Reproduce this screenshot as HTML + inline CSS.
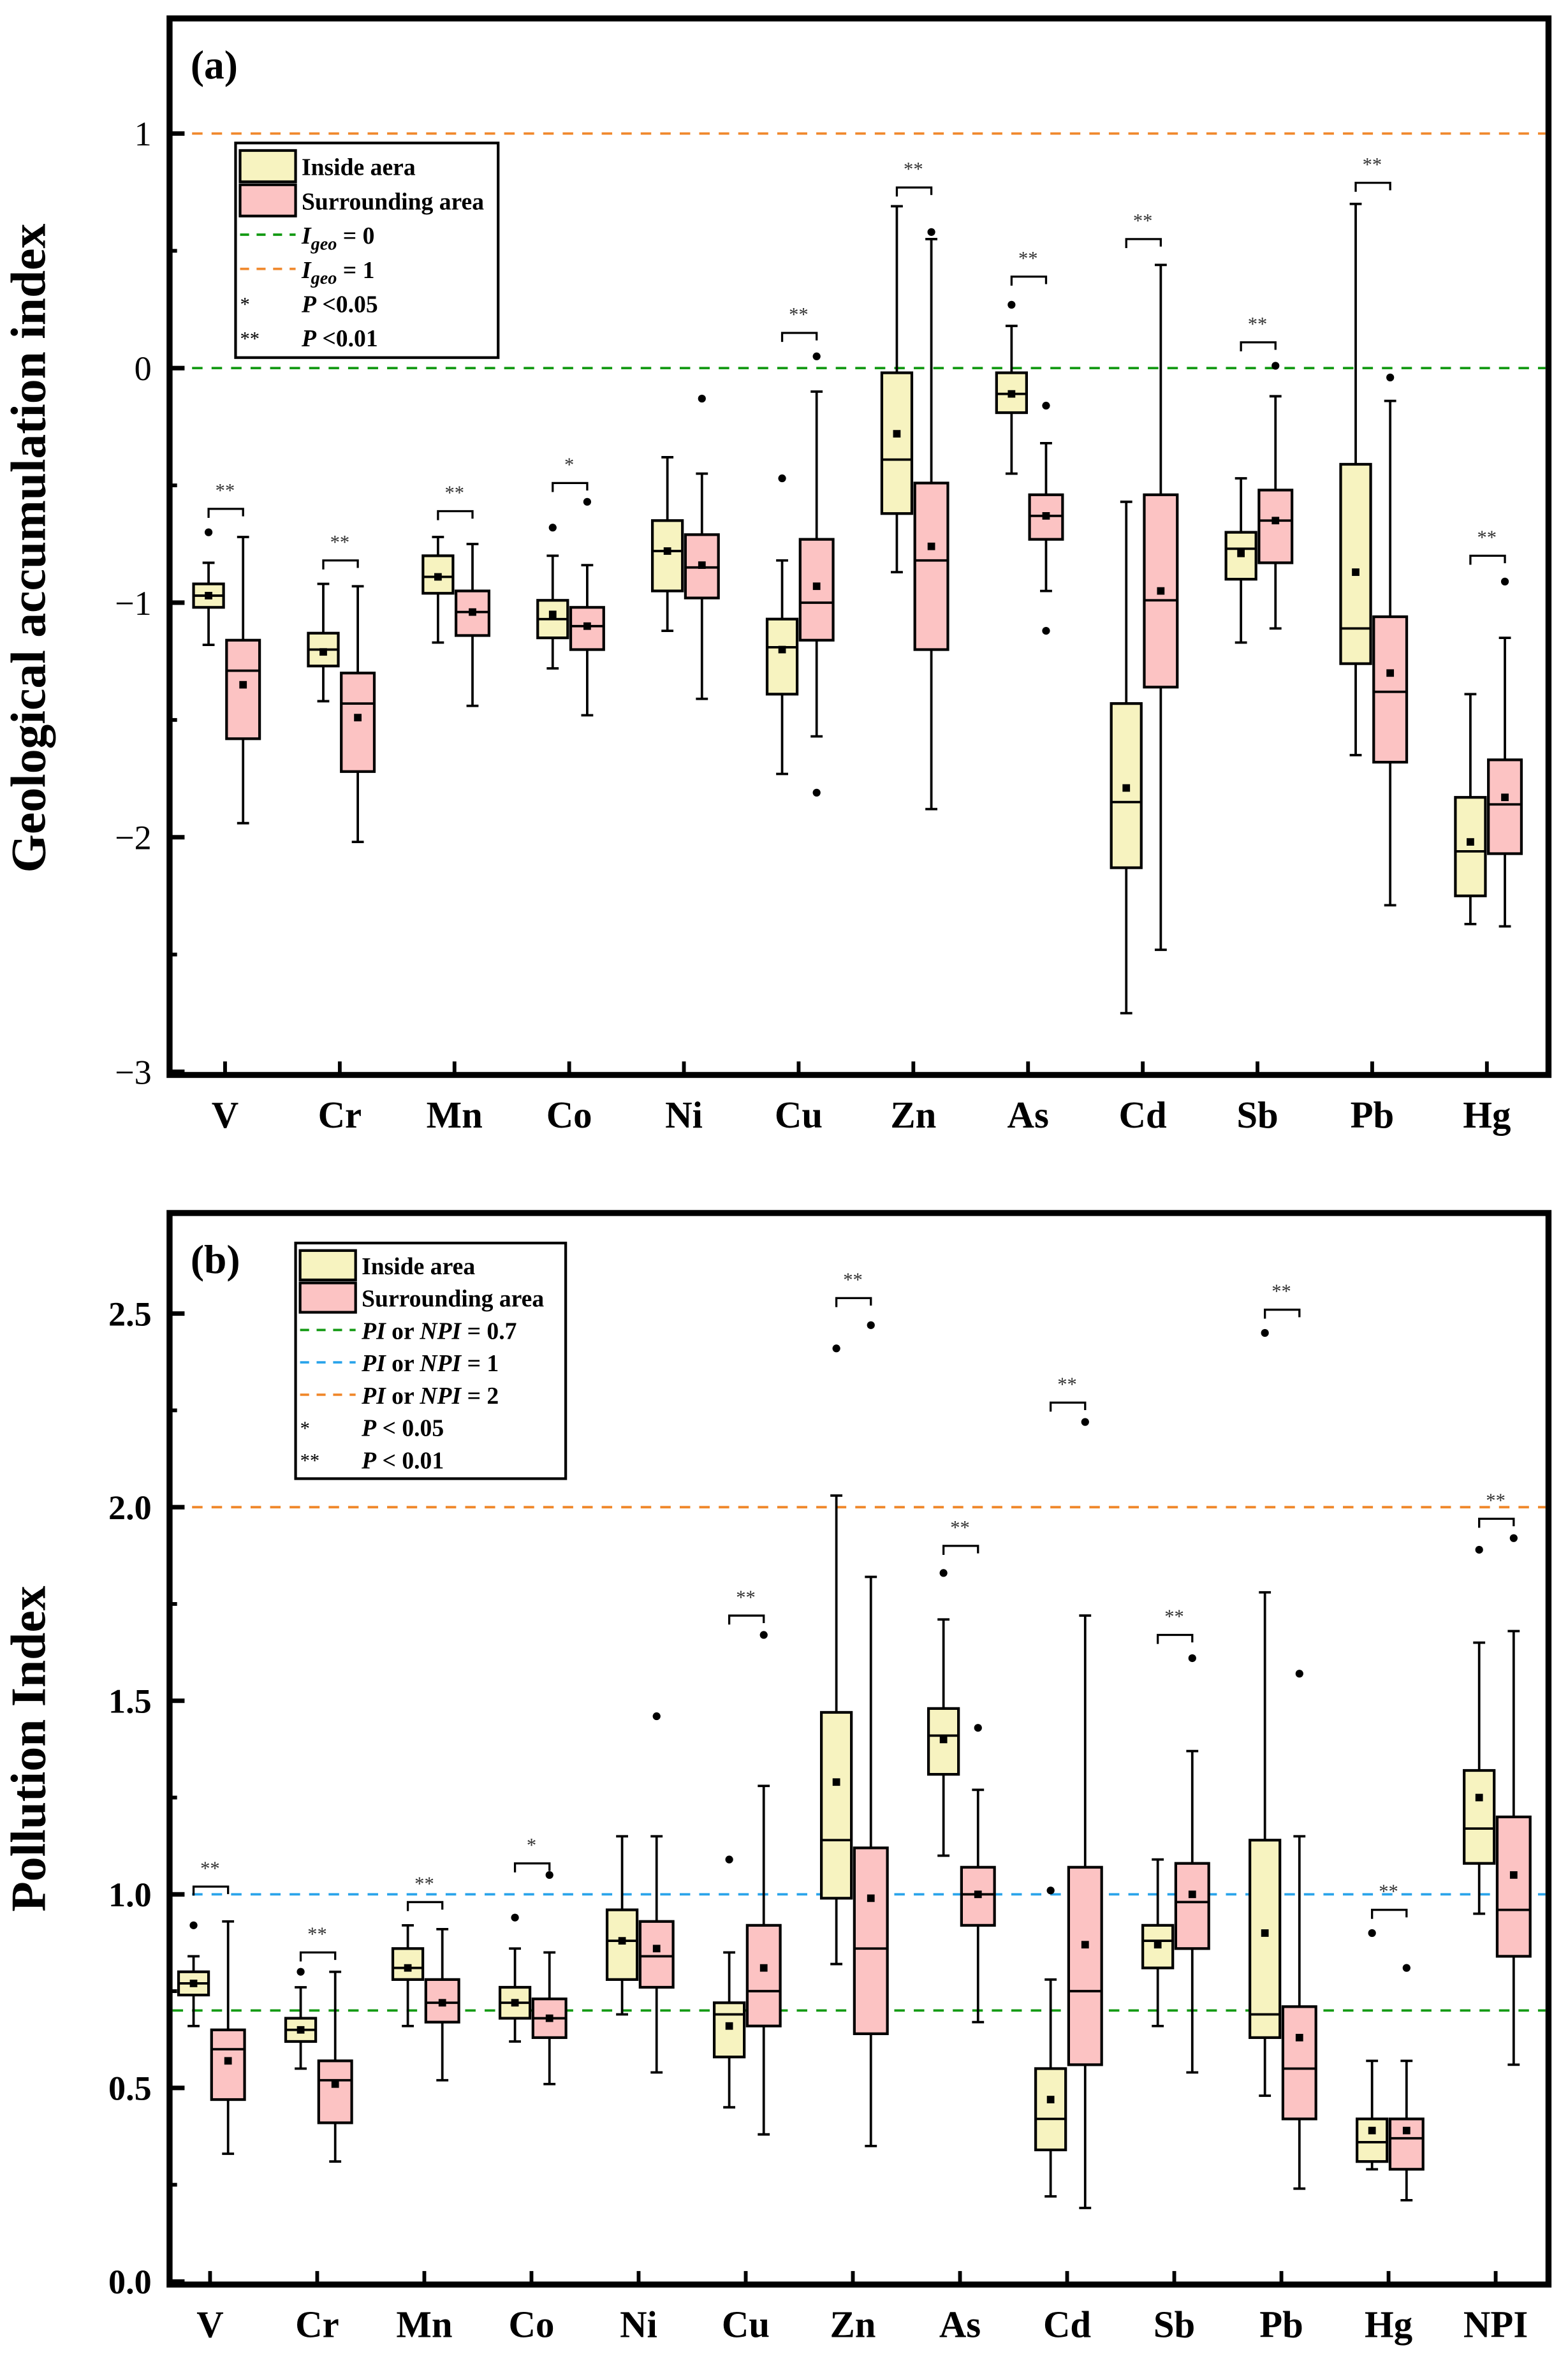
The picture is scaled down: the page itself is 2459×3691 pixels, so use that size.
<!DOCTYPE html>
<html><head><meta charset="utf-8">
<style>
html,body{margin:0;padding:0;background:#fff;}
svg{display:block;}
text{font-family:"Liberation Serif",serif;}
</style></head>
<body>
<svg id="fig" width="2459" height="3691" viewBox="0 0 1045 1568" xmlns="http://www.w3.org/2000/svg">
<rect x="0" y="0" width="1045" height="1568" fill="#fff"/>
</svg>
<script>
// ---------- Panel (a) data: [whiskLo, q1, median, q3, whiskHi, mean] ----------
const catsA = ["V","Cr","Mn","Co","Ni","Cu","Zn","As","Cd","Sb","Pb","Hg"];
const insideA = [
 [-1.18,-1.02,-0.97,-0.92,-0.83,-0.97],
 [-1.42,-1.27,-1.20,-1.13,-0.92,-1.21],
 [-1.17,-0.96,-0.89,-0.80,-0.72,-0.89],
 [-1.28,-1.15,-1.07,-0.99,-0.80,-1.05],
 [-1.12,-0.95,-0.78,-0.65,-0.38,-0.78],
 [-1.73,-1.39,-1.19,-1.07,-0.82,-1.20],
 [-0.87,-0.62,-0.39,-0.02,0.69,-0.28],
 [-0.45,-0.19,-0.11,-0.02,0.18,-0.11],
 [-2.75,-2.13,-1.85,-1.43,-0.57,-1.79],
 [-1.17,-0.90,-0.77,-0.70,-0.47,-0.79],
 [-1.65,-1.26,-1.11,-0.41,0.70,-0.87],
 [-2.37,-2.25,-2.06,-1.83,-1.39,-2.02]
];
const surroundA = [
 [-1.94,-1.58,-1.29,-1.16,-0.72,-1.35],
 [-2.02,-1.72,-1.43,-1.30,-0.93,-1.49],
 [-1.44,-1.14,-1.04,-0.95,-0.75,-1.04],
 [-1.48,-1.20,-1.10,-1.02,-0.84,-1.10],
 [-1.41,-0.98,-0.85,-0.71,-0.45,-0.84],
 [-1.57,-1.16,-1.00,-0.73,-0.10,-0.93],
 [-1.88,-1.20,-0.82,-0.49,0.55,-0.76],
 [-0.95,-0.73,-0.63,-0.54,-0.32,-0.63],
 [-2.48,-1.36,-0.99,-0.54,0.44,-0.95],
 [-1.11,-0.83,-0.65,-0.52,-0.12,-0.65],
 [-2.29,-1.68,-1.38,-1.06,-0.14,-1.30],
 [-2.38,-2.07,-1.86,-1.67,-1.15,-1.83]
];
const outInA = [[-0.70],[],[],[-0.68],[],[-0.47],[],[0.27],[],[],[],[]];
const outSurA = [[],[],[],[-0.57],[-0.13],[0.05,-1.81],[0.58],[-0.16,-1.12],[],[0.01],[-0.04],[-0.91]];
const sigA = ["**","**","**","*","","**","**","**","**","**","**","**"];
const sigYA = [-0.60,-0.82,-0.61,-0.49,null,0.15,0.77,0.39,0.55,0.11,0.79,-0.80];
const ticksA = [1,0,-1,-2,-3];

// ---------- Panel (b) data ----------
const catsB = ["V","Cr","Mn","Co","Ni","Cu","Zn","As","Cd","Sb","Pb","Hg","NPI"];
const insideB = [
 [0.66,0.74,0.77,0.80,0.84,0.77],
 [0.55,0.62,0.65,0.68,0.76,0.65],
 [0.66,0.78,0.81,0.86,0.92,0.81],
 [0.62,0.68,0.72,0.76,0.86,0.72],
 [0.69,0.78,0.88,0.96,1.15,0.88],
 [0.45,0.58,0.69,0.72,0.85,0.66],
 [0.82,0.99,1.14,1.47,2.03,1.29],
 [1.10,1.31,1.41,1.48,1.71,1.40],
 [0.22,0.34,0.42,0.55,0.78,0.47],
 [0.66,0.81,0.88,0.92,1.09,0.87],
 [0.48,0.63,0.69,1.14,1.78,0.90],
 [0.29,0.31,0.36,0.42,0.57,0.39],
 [0.95,1.08,1.17,1.32,1.65,1.25]
];
const surroundB = [
 [0.33,0.47,0.60,0.65,0.93,0.57],
 [0.31,0.41,0.52,0.57,0.80,0.51],
 [0.52,0.67,0.72,0.78,0.91,0.72],
 [0.51,0.63,0.68,0.73,0.85,0.68],
 [0.54,0.76,0.84,0.93,1.15,0.86],
 [0.38,0.66,0.75,0.92,1.28,0.81],
 [0.35,0.64,0.86,1.12,1.82,0.99],
 [0.67,0.92,1.00,1.07,1.27,1.00],
 [0.19,0.56,0.75,1.07,1.72,0.87],
 [0.54,0.86,0.98,1.08,1.37,1.00],
 [0.24,0.42,0.55,0.71,1.15,0.63],
 [0.21,0.29,0.37,0.42,0.57,0.39],
 [0.56,0.84,0.96,1.20,1.68,1.05]
];
const outInB = [[0.92],[0.80],[],[0.94],[],[1.09],[2.41],[1.83],[1.01],[],[2.45],[0.90],[1.89]];
const outSurB = [[],[],[],[1.05],[1.46],[1.67],[2.47],[1.43],[2.22],[1.61],[1.57],[0.81],[1.92]];
const sigB = ["**","**","**","*","","**","**","**","**","**","**","**","**"];
const sigYB = [1.02,0.85,0.98,1.08,null,1.72,2.54,1.90,2.27,1.67,2.51,0.96,1.97];
const ticksB = [0.0,0.5,1.0,1.5,2.0,2.5];

const NS = "http://www.w3.org/2000/svg";
const svg = document.getElementById("fig");
function mk(tag, attrs, parent){
  const e = document.createElementNS(NS, tag);
  for (const k in attrs) e.setAttribute(k, attrs[k]);
  (parent||svg).appendChild(e);
  return e;
}

function drawPanel(cfg){
  const g = mk("g", {});
  
  
  const X0=113, X1=1032, Y0=cfg.top, Y1=cfg.bottom;
  const y = v => cfg.yZero - cfg.unit*v;
  const xc = i => cfg.x0 + cfg.dx*i;

  cfg.refs.forEach(r=>{
    const l = mk("line",{x1:X0+2,x2:X1-2,y1:y(r.v),y2:y(r.v),stroke:r.c,"stroke-width":1.6,"stroke-dasharray":"7 6"},g);
    
    
  });

  function box(d, cx, w, fill, outs, name){
    const bg = mk("g",{},g);
    
    
    mk("line",{x1:cx,x2:cx,y1:y(d[0]),y2:y(d[1]),stroke:"#000","stroke-width":1.6},bg);
    mk("line",{x1:cx,x2:cx,y1:y(d[3]),y2:y(d[4]),stroke:"#000","stroke-width":1.6},bg);
    mk("line",{x1:cx-4,x2:cx+4,y1:y(d[0]),y2:y(d[0]),stroke:"#000","stroke-width":1.6},bg);
    mk("line",{x1:cx-4,x2:cx+4,y1:y(d[4]),y2:y(d[4]),stroke:"#000","stroke-width":1.6},bg);
    mk("rect",{x:cx-w/2,y:y(d[3]),width:w,height:y(d[1])-y(d[3]),fill:fill,stroke:"#000","stroke-width":1.8},bg);
    mk("line",{x1:cx-w/2,x2:cx+w/2,y1:y(d[2]),y2:y(d[2]),stroke:"#000","stroke-width":1.6},bg);
    mk("rect",{x:cx-2.5,y:y(d[5])-2.5,width:5,height:5,fill:"#000"},bg);
    outs.forEach(o=>{ mk("circle",{cx:cx,cy:y(o),r:2.6,fill:"#000"},bg); });
  }
  cfg.cats.forEach((c,i)=>{
    box(cfg.inside[i], xc(i)-11, 20, "#f7f3c0", cfg.outIn[i], "inside-box-"+c.toLowerCase());
    box(cfg.surround[i], xc(i)+12, 22, "#fcc3c3", cfg.outSur[i], "surrounding-box-"+c.toLowerCase());
    if (cfg.sig[i]){
      const yy = y(cfg.sigY[i]);
      const b = mk("path",{d:`M${xc(i)-11},${yy+6} V${yy} H${xc(i)+12} V${yy+5}`,fill:"none",stroke:"#000","stroke-width":1.4},g);
      
      
      const t = mk("text",{x:xc(i),y:yy-8,"font-size":13,"text-anchor":"middle",fill:"#333"},g);
      t.textContent = cfg.sig[i];
      
      
    }
    mk("line",{x1:xc(i),x2:xc(i),y1:Y1-9,y2:Y1,stroke:"#000","stroke-width":2.5},g);
    const xl = mk("text",{x:xc(i),y:Y1+35,"font-size":25,"font-weight":"bold","text-anchor":"middle"},g);
    xl.textContent = c;
    
    
  });

  cfg.ticks.forEach(t=>{
    mk("line",{x1:X0,x2:X0+10,y1:y(t),y2:y(t),stroke:"#000","stroke-width":3},g);
    const tl = mk("text",{x:X0-12,y:y(t)+8,"font-size":23,"font-weight":cfg.tickBold?"bold":"normal","text-anchor":"end"},g);
    tl.textContent = cfg.fmt(t);
    
    
  });
  cfg.minor.forEach(t=>{
    mk("line",{x1:X0,x2:X0+5,y1:y(t),y2:y(t),stroke:"#000","stroke-width":2.5},g);
  });

  const fr = mk("rect",{x:X0,y:Y0,width:X1-X0,height:Y1-Y0,fill:"none",stroke:"#000","stroke-width":4},g);
  
  

  const pl = mk("text",{x:X0+14,y:Y0+40,"font-size":27,"font-weight":"bold"},g);
  pl.textContent = cfg.label;
  
  

  const yt = mk("text",{x:0,y:0,"font-size":33,"font-weight":"bold","text-anchor":"middle",transform:`translate(30,${cfg.ytY}) rotate(-90)`},g);
  yt.textContent = cfg.ytitle;
  
  

  const L = cfg.leg;
  const lg = mk("g",{},g);
  
  
  mk("rect",{x:L.x,y:L.y,width:L.w,height:L.h,fill:"#fff",stroke:"#000","stroke-width":1.8},lg);
  const rowH = (L.h-6)/cfg.legRows.length;
  cfg.legRows.forEach((r,k)=>{
    const cy = L.y+4+rowH*(k+0.5);
    if (r.type==="box") mk("rect",{x:L.x+3,y:cy-rowH/2+1,width:37,height:rowH-2,fill:r.c,stroke:"#000","stroke-width":1.8},lg);
    else if (r.type==="line") mk("line",{x1:L.x+3,x2:L.x+40,y1:cy,y2:cy,stroke:r.c,"stroke-width":1.6,"stroke-dasharray":"6 5"},lg);
    else { const s=mk("text",{x:L.x+3,y:cy+5,"font-size":13},lg); s.textContent=r.sym; }
    const t = mk("text",{x:L.x+44,y:cy+6,"font-size":16,"font-weight":"bold"},lg);
    t.innerHTML = r.html;
    
    
  });
}

drawPanel({
  name:"panel-a-geoaccumulation", top:12, bottom:716, yZero:245, unit:156.3,
  x0:150, dx:76.45, cats:catsA, inside:insideA, surround:surroundA, outIn:outInA, outSur:outSurA,
  sig:sigA, sigY:sigYA, ticks:ticksA, minor:[0.5,-0.5,-1.5,-2.5], tickBold:false,
  fmt:t=> t<0 ? "\u2212"+Math.abs(t) : String(t),
  refs:[{v:1,c:"#f0882c",name:"igeo-1-line"},{v:0,c:"#149a14",name:"igeo-0-line"}],
  label:"(a)", ytitle:"Geological accumulation index", ytY:365,
  leg:{x:157,y:95,w:175,h:143},
  legRows:[
    {type:"box",c:"#f7f3c0",html:"Inside aera"},
    {type:"box",c:"#fcc3c3",html:"Surrounding area"},
    {type:"line",c:"#149a14",html:"<tspan font-style='italic'>I</tspan><tspan font-style='italic' font-size='12' dy='4'>geo</tspan><tspan dy='-4'> = 0</tspan>"},
    {type:"line",c:"#f0882c",html:"<tspan font-style='italic'>I</tspan><tspan font-style='italic' font-size='12' dy='4'>geo</tspan><tspan dy='-4'> = 1</tspan>"},
    {type:"sym",sym:"*",html:"<tspan font-style='italic'>P</tspan> &lt;0.05"},
    {type:"sym",sym:"**",html:"<tspan font-style='italic'>P</tspan> &lt;0.01"}
  ]
});

drawPanel({
  name:"panel-b-pollution-index", top:808, bottom:1522, yZero:1520, unit:258,
  x0:140, dx:71.4, cats:catsB, inside:insideB, surround:surroundB, outIn:outInB, outSur:outSurB,
  sig:sigB, sigY:sigYB, ticks:ticksB, minor:[0.25,0.75,1.25,1.75,2.25], tickBold:true,
  fmt:t=> t.toFixed(1),
  refs:[{v:0.7,c:"#149a14",name:"pi-0.7-line"},{v:1.0,c:"#2aa4ea",name:"pi-1-line"},{v:2.0,c:"#f0882c",name:"pi-2-line"}],
  label:"(b)", ytitle:"Pollution Index", ytY:1165,
  leg:{x:197,y:828,w:180,h:157},
  legRows:[
    {type:"box",c:"#f7f3c0",html:"Inside area"},
    {type:"box",c:"#fcc3c3",html:"Surrounding area"},
    {type:"line",c:"#149a14",html:"<tspan font-style='italic'>PI</tspan> or <tspan font-style='italic'>NPI</tspan> = 0.7"},
    {type:"line",c:"#2aa4ea",html:"<tspan font-style='italic'>PI</tspan> or <tspan font-style='italic'>NPI</tspan> = 1"},
    {type:"line",c:"#f0882c",html:"<tspan font-style='italic'>PI</tspan> or <tspan font-style='italic'>NPI</tspan> = 2"},
    {type:"sym",sym:"*",html:"<tspan font-style='italic'>P</tspan> &lt; 0.05"},
    {type:"sym",sym:"**",html:"<tspan font-style='italic'>P</tspan> &lt; 0.01"}
  ]
});
</script>
</body></html>
